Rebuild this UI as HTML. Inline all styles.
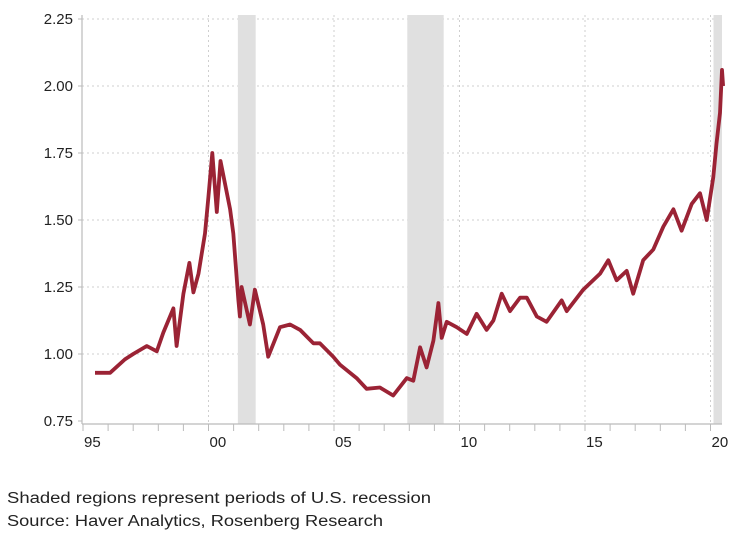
<!DOCTYPE html>
<html><head><meta charset="utf-8"><style>
html,body{margin:0;padding:0;background:#fff;}
svg{display:block;font-family:"Liberation Sans",Arial,sans-serif;}
</style></head><body>
<svg id="chart" width="745" height="542" viewBox="0 0 745 542" xmlns="http://www.w3.org/2000/svg">
<g id="grid"></g>
<g id="shades"></g>
<g id="axes"></g>
<g id="series"></g>
<text x="7" y="503" font-size="15.5" fill="#222" textLength="424" lengthAdjust="spacingAndGlyphs">Shaded regions represent periods of U.S. recession</text>
<text x="7" y="526" font-size="15.5" fill="#222" textLength="376" lengthAdjust="spacingAndGlyphs">Source: Haver Analytics, Rosenberg Research</text>
</svg>
<script>
const yTicks = [0.75, 1.00, 1.25, 1.50, 1.75, 2.00, 2.25];
const yTickLabels = ["0.75", "1.00", "1.25", "1.50", "1.75", "2.00", "2.25"];
const xLabelYears = [1995, 2000, 2005, 2010, 2015, 2020];
const xTickLabels = ["95", "00", "05", "10", "15", "20"];
const recessionStarts = [2001.17, 2007.92, 2020.12];
const recessionEnds = [2001.88, 2009.37, 2020.55];
const seriesTimes = [1995.48,1996.08,1996.67,1997.0,1997.54,1997.94,1998.2,1998.6,1998.73,1999.0,1999.24,1999.4,1999.6,1999.86,2000.0,2000.15,2000.33,2000.48,2000.86,2000.99,2001.19,2001.25,2001.32,2001.65,2001.85,2002.18,2002.38,2002.85,2003.25,2003.65,2004.18,2004.44,2004.97,2005.24,2005.9,2006.3,2006.83,2007.36,2007.9,2008.16,2008.43,2008.69,2008.96,2009.16,2009.29,2009.49,2009.89,2010.29,2010.68,2011.08,2011.35,2011.68,2012.01,2012.41,2012.68,2013.08,2013.47,2014.07,2014.27,2014.93,2015.6,2015.93,2016.26,2016.66,2016.92,2017.32,2017.72,2018.12,2018.52,2018.85,2019.25,2019.58,2019.85,2020.11,2020.24,2020.38,2020.46,2020.5];
const seriesValues = [0.93,0.93,0.98,1.00,1.03,1.01,1.08,1.17,1.03,1.225,1.34,1.23,1.30,1.45,1.59,1.75,1.53,1.72,1.54,1.45,1.20,1.14,1.25,1.11,1.24,1.11,0.99,1.10,1.11,1.09,1.04,1.04,0.99,0.96,0.91,0.87,0.875,0.845,0.91,0.90,1.025,0.95,1.05,1.19,1.06,1.12,1.10,1.075,1.15,1.09,1.125,1.225,1.16,1.21,1.21,1.14,1.12,1.20,1.16,1.24,1.30,1.35,1.275,1.31,1.225,1.35,1.39,1.475,1.54,1.46,1.56,1.60,1.50,1.66,1.785,1.90,2.06,2.00];

const NS = "http://www.w3.org/2000/svg";
const X0 = 82, X1 = 722, Y0 = 424, YTOP = 15;
function xScale(t){ return 83 + (t - 1995) * 25.1; }
function yScale(v){ return 421 - (v - 0.75) * 268; }
function mk(tag, attrs, parent){
  const el = document.createElementNS(NS, tag);
  for (const k in attrs) el.setAttribute(k, attrs[k]);
  parent.appendChild(el);
  return el;
}
const grid = document.getElementById('grid');
const shades = document.getElementById('shades');
const axes = document.getElementById('axes');
const series = document.getElementById('series');

yTicks.forEach((v, i) => {
  const y = yScale(v);
  if (i > 0) {
    const g = mk('line', {x1: X0, x2: X1, y1: y, y2: y, stroke: '#cfcfcf', 'stroke-width': 1, 'stroke-dasharray': '2,3'}, grid);
    
    
  }
  const tk = mk('line', {x1: X0 - 4, x2: X0, y1: y, y2: y, stroke: '#bbb', 'stroke-width': 1}, axes);
  
  
  const t = mk('text', {x: 73, y: y + 5, 'text-anchor': 'end', 'font-size': 15, fill: '#222'}, axes);
  t.textContent = yTickLabels[i];
  
  
});

xLabelYears.forEach((yr, i) => {
  const x = xScale(yr);
  if (i > 0) {
    const g = mk('line', {x1: x, x2: x, y1: YTOP, y2: Y0, stroke: '#cfcfcf', 'stroke-width': 1, 'stroke-dasharray': '2,3'}, grid);
    
    
  }
  const t = mk('text', {x: x + 1, y: 447, 'text-anchor': 'start', 'font-size': 15, fill: '#222'}, axes);
  t.textContent = xTickLabels[i];
  
  
});

for (let yr = 1995; yr <= 2020; yr++) {
  const x = xScale(yr);
  const tk = mk('line', {x1: x, x2: x, y1: Y0, y2: Y0 + 7, stroke: '#bbb', 'stroke-width': 1}, axes);
  
  
}

recessionStarts.forEach((s, i) => {
  const xa = xScale(s), xb = Math.min(xScale(recessionEnds[i]), X1);
  const r = mk('rect', {x: xa, y: YTOP, width: xb - xa, height: Y0 - YTOP, fill: '#e0e0e0'}, shades);
  
  
});

const ya = mk('line', {x1: X0, x2: X0, y1: YTOP, y2: Y0, stroke: '#bbb', 'stroke-width': 1.2}, axes);


const xa = mk('line', {x1: X0, x2: X1, y1: Y0, y2: Y0, stroke: '#bbb', 'stroke-width': 1.2}, axes);



const d = seriesTimes.map((t, i) => (i ? 'L' : 'M') + xScale(t).toFixed(1) + ',' + yScale(seriesValues[i]).toFixed(1)).join(' ');
const p = mk('path', {d: d, fill: 'none', stroke: '#9b2335', 'stroke-width': 3.8, 'stroke-linejoin': 'round'}, series);


</script>
</body></html>
